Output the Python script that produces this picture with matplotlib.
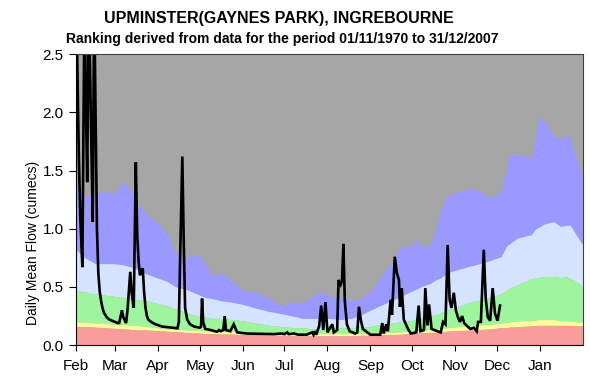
import numpy as np
import matplotlib
matplotlib.use("Agg")
import matplotlib.pyplot as plt

plt.rcParams['font.family'] = ['Liberation Sans', 'DejaVu Sans']

# percentile band edges, days counted from 1 Feb
band_days = [0, 5, 14, 20, 27, 34, 40, 44, 51, 58, 65, 72, 79, 87, 93, 98, 105, 112, 120, 129,
             139, 148, 156, 163, 170, 177, 183, 190, 198, 205, 212, 219, 227, 234, 241, 245, 248,
             255, 259, 263, 267, 275, 284, 291, 299, 306, 310, 312, 318, 328, 331, 333, 337, 344,
             349, 353, 356, 361, 365]
band_max = [1.41, 1.28, 1.30, 1.32, 1.30, 1.40, 1.33, 1.22, 1.12, 1.06, 0.96, 0.79, 0.75, 0.78,
            0.71, 0.60, 0.62, 0.56, 0.47, 0.46, 0.40, 0.34, 0.37, 0.36, 0.42, 0.46, 0.42, 0.40,
            0.39, 0.40, 0.46, 0.58, 0.71, 0.85, 0.85, 0.92, 0.85, 0.86, 0.99, 1.18, 1.28, 1.32,
            1.35, 1.32, 1.27, 1.32, 1.51, 1.64, 1.64, 1.61, 1.77, 1.96, 1.93, 1.80, 1.77, 1.81,
            1.77, 1.59, 1.45]
band_high = [0.82, 0.76, 0.70, 0.70, 0.70, 0.69, 0.67, 0.65, 0.61, 0.58, 0.55, 0.50, 0.48, 0.44,
             0.41, 0.40, 0.38, 0.37, 0.35, 0.32, 0.29, 0.27, 0.25, 0.23, 0.23, 0.23, 0.23, 0.22,
             0.23, 0.26, 0.30, 0.34, 0.38, 0.42, 0.46, 0.48, 0.50, 0.53, 0.56, 0.58, 0.62, 0.65,
             0.68, 0.70, 0.73, 0.76, 0.85, 0.87, 0.92, 0.95, 1.00, 1.01, 1.04, 1.06, 1.02, 1.03,
             1.03, 0.93, 0.86]
band_normal = [0.47, 0.46, 0.44, 0.43, 0.42, 0.41, 0.40, 0.39, 0.38, 0.36, 0.34, 0.31, 0.28, 0.25,
               0.24, 0.23, 0.23, 0.22, 0.21, 0.19, 0.17, 0.16, 0.15, 0.15, 0.14, 0.14, 0.15, 0.15,
               0.15, 0.16, 0.16, 0.18, 0.19, 0.20, 0.21, 0.22, 0.23, 0.25, 0.26, 0.28, 0.30, 0.33,
               0.37, 0.39, 0.41, 0.44, 0.47, 0.49, 0.52, 0.57, 0.58, 0.58, 0.59, 0.59, 0.58, 0.59,
               0.57, 0.54, 0.50]
band_low = [0.20, 0.20, 0.19, 0.19, 0.18, 0.18, 0.17, 0.17, 0.16, 0.15, 0.14, 0.14, 0.13, 0.13,
            0.125, 0.12, 0.12, 0.12, 0.115, 0.11, 0.11, 0.105, 0.10, 0.10, 0.10, 0.10, 0.10, 0.10,
            0.10, 0.10, 0.105, 0.11, 0.11, 0.115, 0.12, 0.125, 0.13, 0.135, 0.14, 0.145, 0.15,
            0.16, 0.17, 0.175, 0.18, 0.19, 0.195, 0.20, 0.21, 0.21, 0.215, 0.22, 0.22, 0.22, 0.21,
            0.21, 0.21, 0.20, 0.20]
band_min = [0.16, 0.16, 0.155, 0.15, 0.145, 0.14, 0.135, 0.13, 0.13, 0.125, 0.12, 0.115, 0.11,
            0.105, 0.10, 0.10, 0.095, 0.095, 0.09, 0.09, 0.085, 0.085, 0.08, 0.08, 0.08, 0.08,
            0.08, 0.08, 0.08, 0.085, 0.085, 0.09, 0.09, 0.095, 0.10, 0.10, 0.105, 0.11, 0.11,
            0.115, 0.12, 0.125, 0.13, 0.135, 0.14, 0.15, 0.15, 0.155, 0.16, 0.165, 0.17, 0.17,
            0.17, 0.17, 0.17, 0.17, 0.17, 0.165, 0.165]

# daily mean flow for the current year
flow_days = [0, 1, 2, 3, 4.5, 6, 7, 8, 9, 10, 11, 12, 13, 14, 15, 16, 17, 18, 19, 20, 21, 22, 24,
             26, 28, 30, 31, 33, 34, 36, 37, 39, 40, 41.5, 43, 44, 45, 46, 47, 48, 49, 50, 51, 52,
             54, 57, 62, 69, 73, 74, 75, 76.5, 77.5, 78.5, 80, 82, 85, 89, 90, 90.7, 91.5, 93, 97,
             100, 101.5, 103, 104, 106, 107, 108, 111, 113.5, 116, 123, 133, 142, 148, 150, 152,
             153, 157, 160, 166, 170, 171, 172, 173, 174, 175, 176.5, 178, 179.6, 181, 182.5,
             184.5, 185.6, 188, 189, 190.5, 191.5, 192.5, 193.5, 195, 197, 201, 202.5, 203.7, 205,
             206.5, 209.7, 212, 219, 220.5, 221.5, 223.5, 224.5, 226.5, 227.5, 229.5, 231, 232.5,
             233.2, 234.5, 236, 239, 241, 245, 246.7, 248, 250.5, 251.5, 253, 254.2, 256, 258,
             262.6, 264.3, 266, 267.6, 269, 270.3, 272, 273.5, 275, 276.5, 278, 279.5, 282, 284,
             286.5, 288.5, 289.5, 291.5, 293.6, 295, 296.5, 298.2, 300, 301.7, 303.5, 305.3]
flow_vals = [3.2, 2.3, 1.6, 1.1, 0.67, 2.9, 2.1, 1.40, 2.9, 2.4, 1.7, 1.06, 3.0, 2.0, 1.0, 0.62,
             0.46, 0.38, 0.32, 0.28, 0.26, 0.24, 0.22, 0.21, 0.20, 0.19, 0.19, 0.30, 0.24, 0.19,
             0.30, 0.63, 0.45, 0.32, 1.57, 0.95, 0.72, 0.60, 0.64, 0.66, 0.45, 0.32, 0.25, 0.22,
             0.20, 0.18, 0.16, 0.15, 0.145, 0.20, 0.80, 1.62, 0.90, 0.32, 0.22, 0.18, 0.16, 0.15,
             0.16, 0.40, 0.20, 0.14, 0.13, 0.12, 0.115, 0.13, 0.12, 0.13, 0.25, 0.13, 0.12, 0.18,
             0.11, 0.10, 0.097, 0.095, 0.10, 0.095, 0.11, 0.095, 0.10, 0.09, 0.09, 0.11, 0.09,
             0.12, 0.09, 0.13, 0.16, 0.34, 0.13, 0.37, 0.11, 0.14, 0.18, 0.11, 0.13, 0.56, 0.52,
             0.55, 0.87, 0.38, 0.18, 0.12, 0.10, 0.11, 0.33, 0.22, 0.14, 0.11, 0.09, 0.09, 0.19,
             0.10, 0.18, 0.12, 0.39, 0.26, 0.76, 0.62, 0.56, 0.33, 0.49, 0.22, 0.14, 0.10, 0.11,
             0.34, 0.12, 0.13, 0.49, 0.17, 0.35, 0.14, 0.13, 0.11, 0.20, 0.18, 0.86, 0.39, 0.32,
             0.45, 0.30, 0.24, 0.20, 0.25, 0.19, 0.16, 0.14, 0.15, 0.12, 0.20, 0.20, 0.82, 0.40,
             0.24, 0.21, 0.49, 0.27, 0.21, 0.34]

month_labels = ['Feb', 'Mar', 'Apr', 'May', 'Jun', 'Jul', 'Aug', 'Sep', 'Oct', 'Nov', 'Dec', 'Jan']
month_starts = [0, 28, 59, 89, 120, 150, 181, 212, 242, 273, 303, 334]

fig = plt.figure(figsize=(5.9, 3.81), dpi=100)
ax = fig.add_axes([0.129, 0.094, 0.859, 0.764])
ax.set_facecolor('#a6a6a6')

ax.fill_between(band_days, band_high, band_max, color='#9999ff', lw=0)
ax.fill_between(band_days, band_normal, band_high, color='#d4e4ff', lw=0)
ax.fill_between(band_days, band_low, band_normal, color='#9ef59e', lw=0)
ax.fill_between(band_days, band_min, band_low, color='#fdfd99', lw=0)
ax.fill_between(band_days, 0, band_min, color='#f89c9c', lw=0)

ax.plot(flow_days, flow_vals, color='black', lw=1.9, solid_joinstyle='miter')

ax.set_xlim(0, 365)
ax.set_ylim(0, 2.5)
ax.set_xticks(month_starts)
ax.set_xticklabels(month_labels)
ax.set_yticks(np.arange(0, 2.51, 0.5))
ax.set_yticklabels(['%.1f' % v for v in np.arange(0, 2.51, 0.5)])
ax.tick_params(axis='y', direction='out', length=5, width=0.8, labelsize=11, pad=4)
ax.tick_params(axis='x', direction='out', length=4, width=0.8, labelsize=11, pad=6)
ax.set_ylabel('Daily Mean Flow (cumecs)', fontsize=10)
ax.yaxis.set_label_coords(-0.071, 0.35)

for s in ['top', 'right']:
    ax.spines[s].set_color('#404040')
    ax.spines[s].set_linewidth(0.8)
for s in ['left', 'bottom']:
    ax.spines[s].set_color('black')
    ax.spines[s].set_linewidth(0.8)

fig.text(0.472, 0.952, 'UPMINSTER(GAYNES PARK), INGREBOURNE', ha='center', va='center',
         fontsize=11.5, fontweight='bold')
fig.text(0.478, 0.898, 'Ranking derived from data for the period 01/11/1970 to 31/12/2007',
         ha='center', va='center', fontsize=10, fontweight='bold')

fig.savefig('out.png', dpi=100)
